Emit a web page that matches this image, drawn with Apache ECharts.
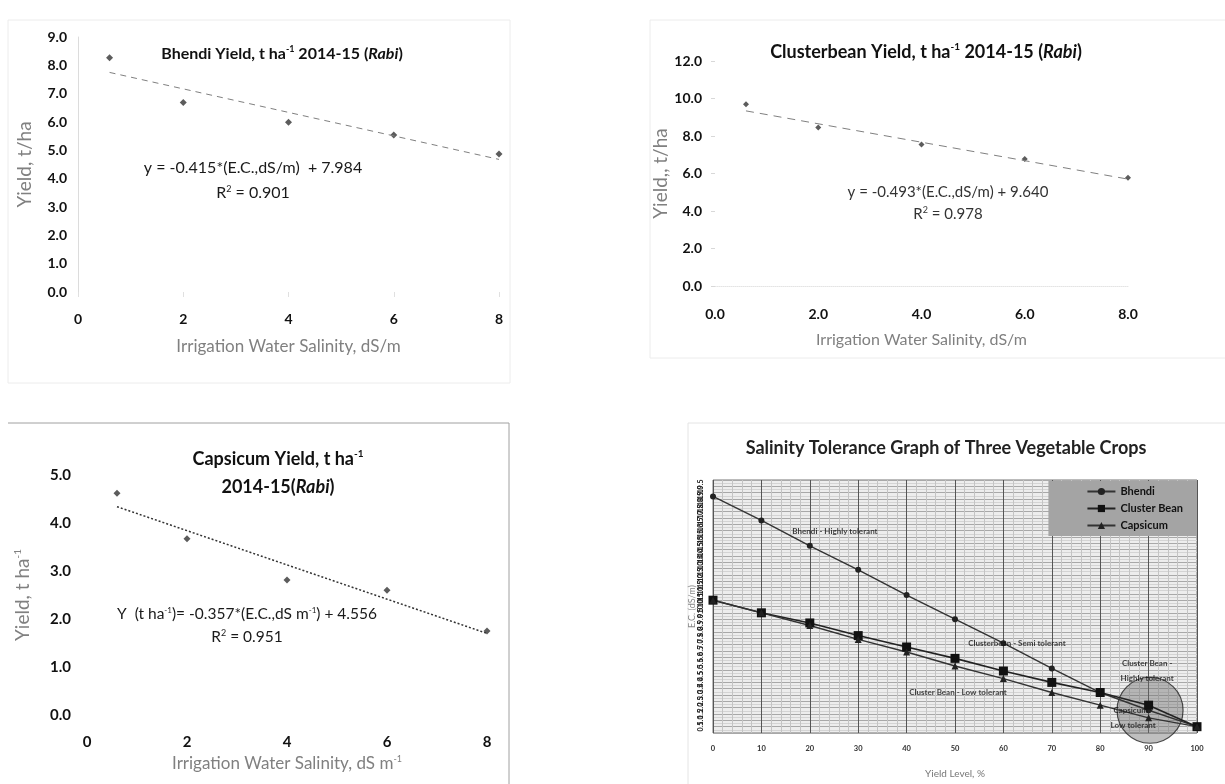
<!DOCTYPE html>
<html>
<head>
<meta charset="utf-8">
<script src="https://cdn.jsdelivr.net/npm/echarts@6/dist/echarts.min.js"></script>
<style>
html,body{margin:0;padding:0;background:#fff;}
#c{width:1225px;height:784px;}
</style>
</head>
<body>
<div id="c"></div>
<script>
// ---------- Data ----------
const salinity = [0.6, 2, 4, 6, 8];
const bhendiYield = [8.27, 6.69, 5.99, 5.54, 4.87];
const bhendiTrendX = [0.6, 8];
const bhendiTrendY = [7.75, 4.68];

const clusterYield = [9.7, 8.45, 7.55, 6.78, 5.78];
const clusterTrendX = [0.6, 8];
const clusterTrendY = [9.34, 5.70];

const capsicumYield = [4.62, 3.67, 2.81, 2.6, 1.75];
const capsicumTrendX = [0.6, 8];
const capsicumTrendY = [4.34, 1.70];

const yieldLevel = [0, 10, 20, 30, 40, 50, 60, 70, 80, 90, 100];
const bhendiEC = [18.7, 16.8, 14.8, 12.9, 10.9, 9.0, 7.1, 5.1, 3.2, 1.8, 0.5];
const clusterEC = [10.5, 9.5, 8.7, 7.7, 6.8, 5.9, 4.9, 4.0, 3.2, 2.2, 0.5];
const capsicumEC = [10.5, 9.5, 8.5, 7.4, 6.4, 5.3, 4.3, 3.2, 2.2, 1.2, 0.5];

const circleX = [90.3];
const circleY = [1.8];
const noteText = ['Bhendi - Highly tolerant', 'Clusterbean - Semi tolerant', 'Cluster Bean - Low tolerant', 'Cluster Bean -\nHighly tolerant', 'Capsicum -\nLow tolerant'];
const noteX = [25.2, 62.8, 50.6, 89.7, 86.8];
const noteY = [15.9, 7.1, 3.2, 4.9, 1.2];

// ---------- Helpers ----------
const FONT = 'Lato';
function zip(xs, ys){ return xs.map((x,i)=>[x, ys[i]]); }

const chart = echarts.init(document.getElementById('c'), null, {renderer: 'canvas'});

function tickLabel(size, fmt){
  return {color: '#111', fontWeight: 'bold', fontSize: size, fontFamily: FONT, formatter: fmt};
}
function titleStyle(size){
  return {fontSize: size, fontWeight: 'bold', color: '#111', fontFamily: FONT,
    rich: {sup: {fontSize: Math.round(size*0.58), fontWeight: 'bold', padding: [0,0,Math.round(size*0.55),0], fontFamily: FONT},
           i: {fontSize: size, fontWeight: 'bold', fontStyle: 'italic', fontFamily: FONT}}};
}
const greyName = '#808080';

const option = {
  backgroundColor: '#ffffff',
  animation: false,
  textStyle: {fontFamily: FONT},
  title: [
    {text: 'Bhendi Yield, t ha{sup|-1} 2014-15 ({i|Rabi})', left: 277, top: 40, textAlign: 'center', textStyle: titleStyle(16)},
    {text: 'Clusterbean Yield, t ha{sup|-1} 2014-15 ({i|Rabi})', left: 921, top: 37, textAlign: 'center', textStyle: titleStyle(18)},
    {text: 'Capsicum Yield, t ha{sup|-1}\n2014-15({i|Rabi})', left: 273, top: 440, textAlign: 'center',
     textStyle: Object.assign(titleStyle(18), {lineHeight: 28})},
    {text: 'Salinity Tolerance Graph of Three Vegetable Crops', left: 941, top: 434, textAlign: 'center',
     textStyle: {fontSize: 18, fontWeight: 'bold', color: '#222', fontFamily: FONT}}
  ],
  grid: [
    {left: 78, top: 37, width: 421, height: 255},
    {left: 715, top: 61, width: 413, height: 225},
    {left: 87, top: 475, width: 400, height: 240},
    {left: 713, top: 480, width: 484, height: 253, show: true, backgroundColor: '#ededed', borderColor: '#777', borderWidth: 1}
  ],
  xAxis: [
    {gridIndex: 0, type: 'value', min: 0, max: 8, interval: 2,
     axisLine: {show: false}, axisTick: {show: true, length: 5, lineStyle: {color: '#e0e0e0'}}, splitLine: {show: false},
     axisLabel: Object.assign(tickLabel(14), {margin: 20}),
     name: 'Irrigation Water Salinity, dS/m', nameLocation: 'middle', nameGap: 46,
     nameTextStyle: {color: greyName, fontSize: 17, fontFamily: FONT}},
    {gridIndex: 1, type: 'value', min: 0, max: 8, interval: 2,
     axisLine: {show: true, lineStyle: {color: '#e4e4e4', type: 'dotted'}}, axisTick: {show: false}, splitLine: {show: false},
     axisLabel: Object.assign(tickLabel(14, v => v.toFixed(1)), {margin: 21}),
     name: 'Irrigation Water Salinity, dS/m', nameLocation: 'middle', nameGap: 46,
     nameTextStyle: {color: greyName, fontSize: 16, fontFamily: FONT}},
    {gridIndex: 2, type: 'value', min: 0, max: 8, interval: 2,
     axisLine: {show: false}, axisTick: {show: false}, splitLine: {show: false},
     axisLabel: Object.assign(tickLabel(15), {margin: 20}),
     name: 'Irrigation Water Salinity, dS m{sup|-1}', nameLocation: 'middle', nameGap: 40,
     nameTextStyle: {color: greyName, fontSize: 17, fontFamily: FONT, rich: {sup: {fontSize: 9, padding: [0,0,9,0], color: greyName}}}},
    {gridIndex: 3, type: 'value', min: 0, max: 100, interval: 10,
     axisLine: {show: false}, axisTick: {show: false},
     splitLine: {show: true, lineStyle: {color: '#555', width: 1}},
     minorTick: {show: false, splitNumber: 5},
     minorSplitLine: {show: true, lineStyle: {color: '#c4c4c4', width: 1}},
     axisLabel: {color: '#333', fontSize: 7.5, fontWeight: 'bold', margin: 12, fontFamily: FONT},
     name: 'Yield Level, %', nameLocation: 'middle', nameGap: 36,
     nameTextStyle: {color: '#777', fontSize: 10, fontFamily: FONT}}
  ],
  yAxis: [
    {gridIndex: 0, type: 'value', min: 0, max: 9, interval: 1,
     axisLine: {show: true, lineStyle: {color: '#dcdcdc'}}, axisTick: {show: false}, splitLine: {show: false},
     axisLabel: Object.assign(tickLabel(14, v => v.toFixed(1)), {margin: 11}),
     name: 'Yield, t/ha', nameLocation: 'middle', nameGap: 44, nameRotate: 90,
     nameTextStyle: {color: greyName, fontSize: 19, fontFamily: FONT}},
    {gridIndex: 1, type: 'value', min: 0, max: 12, interval: 2,
     axisLine: {show: false}, axisTick: {show: true, length: 4, lineStyle: {color: '#d8d8d8'}}, splitLine: {show: false},
     axisLabel: Object.assign(tickLabel(14, v => v.toFixed(1)), {margin: 13}),
     name: 'Yield,, t/ha', nameLocation: 'middle', nameGap: 42, nameRotate: 90,
     nameTextStyle: {color: greyName, fontSize: 19, fontFamily: FONT}},
    {gridIndex: 2, type: 'value', min: 0, max: 5, interval: 1,
     axisLine: {show: false}, axisTick: {show: false}, splitLine: {show: false},
     axisLabel: Object.assign(tickLabel(15, v => v.toFixed(1)), {margin: 16}),
     name: 'Yield, t ha{sup|-1}', nameLocation: 'middle', nameGap: 54, nameRotate: 90,
     nameTextStyle: {color: greyName, fontSize: 19, fontFamily: FONT, rich: {sup: {fontSize: 10, padding: [0,0,10,0], color: greyName}}}},
    {gridIndex: 3, type: 'value', min: 0, max: 20, interval: 0.5,
     axisLine: {show: false}, axisTick: {show: false},
     splitLine: {show: true, lineStyle: {color: '#a8a8a8', width: 1}},
     minorSplitLine: {show: true, lineStyle: {color: '#d4d4d4', width: 1}},
     minorTick: {show: false, splitNumber: 2},
     axisLabel: {color: '#222', fontSize: 7, fontWeight: 'bold', rotate: 90, margin: 9, fontFamily: FONT, formatter: v => v.toFixed(1)},
     name: 'E.C. (dS/m)', nameLocation: 'middle', nameGap: -10, nameRotate: 90,
     nameTextStyle: {color: '#888', fontSize: 9, fontFamily: FONT}}
  ],
  legend: {
    data: ['Bhendi', 'Cluster Bean', 'Capsicum'],
    orient: 'vertical', right: 28, top: 481,
    backgroundColor: '#a4a4a4',
    padding: [5, 14, 5, 38],
    itemGap: 6, itemWidth: 28, itemHeight: 9,
    textStyle: {fontSize: 11, fontWeight: 'bold', color: '#111', fontFamily: FONT}
  },
  graphic: [
    {type: 'rect', shape: {x: 8, y: 20, width: 502, height: 363}, style: {fill: 'none', stroke: '#ececec', lineWidth: 1}, silent: true},
    {type: 'rect', shape: {x: 650, y: 20, width: 600, height: 338}, style: {fill: 'none', stroke: '#ececec', lineWidth: 1}, silent: true},
    {type: 'polyline', shape: {points: [[8, 423], [509, 423], [509, 784]]}, style: {fill: 'none', stroke: '#a0a0a0', lineWidth: 1}, silent: true},
    {type: 'rect', shape: {x: 688, y: 423, width: 560, height: 380}, style: {fill: 'none', stroke: '#e4e4e4', lineWidth: 1}, silent: true},
    {type: 'text', style: {text: 'y = -0.415*(E.C.,dS/m)  + 7.984', x: 253, y: 168, textAlign: 'center', textVerticalAlign: 'middle', fontSize: 16, fill: '#1a1a1a', fontFamily: FONT}},
    {type: 'text', style: {text: 'R{sup|2} = 0.901', x: 253, y: 193, textAlign: 'center', textVerticalAlign: 'middle', fontSize: 16, fill: '#1a1a1a', fontFamily: FONT, rich: {sup: {fontSize: 9, padding: [0,0,8,0], fontFamily: FONT}}}},
    {type: 'text', style: {text: 'y = -0.493*(E.C.,dS/m) + 9.640', x: 948, y: 192, textAlign: 'center', textVerticalAlign: 'middle', fontSize: 15, fill: '#333', fontFamily: FONT}},
    {type: 'text', style: {text: 'R{sup|2} = 0.978', x: 948, y: 214, textAlign: 'center', textVerticalAlign: 'middle', fontSize: 15, fill: '#333', fontFamily: FONT, rich: {sup: {fontSize: 9, padding: [0,0,8,0], fontFamily: FONT}}}},
    {type: 'text', style: {text: 'Y  (t ha{sup|-1})= -0.357*(E.C.,dS m{sup|-1}) + 4.556', x: 247, y: 614, textAlign: 'center', textVerticalAlign: 'middle', fontSize: 15.5, fill: '#1a1a1a', fontFamily: FONT, rich: {sup: {fontSize: 8, padding: [0,0,8,0], fontFamily: FONT}}}},
    {type: 'text', style: {text: 'R{sup|2} = 0.951', x: 247, y: 637, textAlign: 'center', textVerticalAlign: 'middle', fontSize: 15.5, fill: '#1a1a1a', fontFamily: FONT, rich: {sup: {fontSize: 9, padding: [0,0,8,0], fontFamily: FONT}}}}
  ],
  series: [
    // Panel 1
    {type: 'scatter', xAxisIndex: 0, yAxisIndex: 0, data: zip(salinity, bhendiYield), symbol: 'diamond', symbolSize: 7, itemStyle: {color: '#333'}},
    {type: 'line', xAxisIndex: 0, yAxisIndex: 0, data: zip(bhendiTrendX, bhendiTrendY), symbol: 'none', lineStyle: {color: '#808080', width: 1, type: [6, 5]}},
    // Panel 2
    {type: 'scatter', xAxisIndex: 1, yAxisIndex: 1, data: zip(salinity, clusterYield), symbol: 'diamond', symbolSize: 6, itemStyle: {color: '#333'}},
    {type: 'line', xAxisIndex: 1, yAxisIndex: 1, data: zip(clusterTrendX, clusterTrendY), symbol: 'none', lineStyle: {color: '#808080', width: 1, type: [8, 6]}},
    // Panel 3
    {type: 'scatter', xAxisIndex: 2, yAxisIndex: 2, data: zip(salinity, capsicumYield), symbol: 'diamond', symbolSize: 7, itemStyle: {color: '#333'}},
    {type: 'line', xAxisIndex: 2, yAxisIndex: 2, data: zip(capsicumTrendX, capsicumTrendY), symbol: 'none', lineStyle: {color: '#333', width: 1.5, type: [2, 2]}},
    // Panel 4
    {type: 'scatter', xAxisIndex: 3, yAxisIndex: 3, data: zip(circleX, circleY), symbol: 'circle', symbolSize: 66, silent: true, z: 1,
     itemStyle: {color: 'rgba(110,110,110,0.55)', borderColor: '#222', borderWidth: 1.2}},
    {name: 'Bhendi', type: 'line', xAxisIndex: 3, yAxisIndex: 3, data: zip(yieldLevel, bhendiEC), symbol: 'circle', symbolSize: 6,
     itemStyle: {color: '#222'}, lineStyle: {color: '#333', width: 1.4}, z: 3},
    {name: 'Cluster Bean', type: 'line', xAxisIndex: 3, yAxisIndex: 3, data: zip(yieldLevel, clusterEC), symbol: 'rect', symbolSize: 9,
     itemStyle: {color: '#111'}, lineStyle: {color: '#222', width: 1.6}, z: 3},
    {name: 'Capsicum', type: 'line', xAxisIndex: 3, yAxisIndex: 3, data: zip(yieldLevel, capsicumEC), symbol: 'triangle', symbolSize: 7,
     itemStyle: {color: '#222'}, lineStyle: {color: '#333', width: 1.4}, z: 3},
    {type: 'scatter', xAxisIndex: 3, yAxisIndex: 3, silent: true, symbolSize: 0, z: 4,
     data: noteText.map((t, i) => ({value: [noteX[i], noteY[i]], label: {formatter: t}})),
     label: {show: true, position: 'inside', fontSize: 8, fontWeight: 'bold', color: '#111', lineHeight: 15, fontFamily: FONT}}
  ]
};
chart.setOption(option);
</script>
</body>
</html>
